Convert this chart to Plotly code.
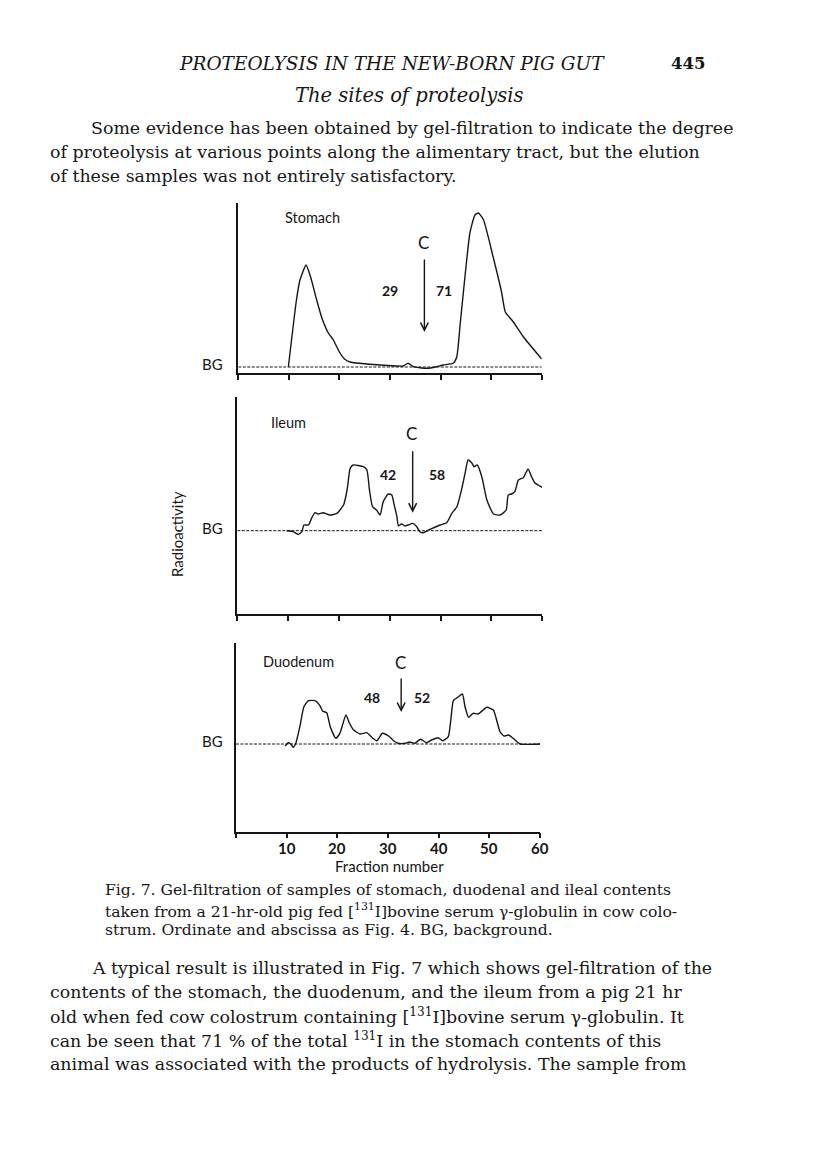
import plotly.graph_objects as go

W, H = 816, 1176
PAGE_OFFSET = 8  # the html body adds an 8px margin; positions below are page pixels

# Fraction number (x) and radioactivity above background (y, arbitrary units)
STOMACH_X = [9.9, 11.5, 12.2, 13.4, 14.3, 15.5, 16.6, 17.8, 18.8, 20.1, 21.0, 22.1,
             26.0, 31.3, 32.6, 33.6, 34.6, 37.3, 39.2, 40.5, 42.5, 43.2, 43.9, 44.9,
             45.8, 46.8, 47.5, 48.5, 50.4, 52.1, 52.8, 54.4, 56.4, 60.0]
STOMACH_Y = [0, 67, 87, 102, 90, 67, 48, 34, 27, 14, 8, 5,
             2.7, 1, 1, 3.7, 0.3, -1.3, 0.3, 2, 3.7, 10, 44, 94,
             134, 152, 154, 147, 110, 74, 55, 45, 30, 8]

ILEUM_X = [9.7, 11.0, 12.0, 12.7, 13.1, 14.0, 14.6, 15.3, 15.9, 16.9, 18.2, 19.6,
           20.9, 21.6, 22.2, 22.8, 24.8, 25.5, 26.0, 26.6, 27.4, 28.1, 28.7, 29.7,
           30.4, 30.8, 31.4, 31.7, 32.3, 33.0, 33.6, 34.5, 35.3, 35.9, 36.6, 37.9,
           39.9, 41.2, 42.2, 43.2, 44.1, 44.8, 45.4, 46.1, 46.6, 47.2, 48.1, 49.1,
           50.4, 51.7, 52.9, 53.3, 54.0, 54.6, 55.3, 56.3, 57.2, 57.9, 58.5, 60.0]
ILEUM_Y = [0, -1, -3.7, -1, 5.7, 5.7, 12.3, 18, 16.7, 18, 15.7, 17.3,
           25.7, 40.7, 62.3, 65.7, 64, 60.7, 40.7, 24, 20.7, 15.7, 29, 36.7,
           35.7, 27.3, 14, 4.7, 6.7, 4.7, 5.7, 7.3, 4, -1, -2, 1.3,
           5.7, 8, 17.3, 24, 40.7, 57.3, 70.7, 68, 64, 65.7, 54, 30.7,
           16.7, 15.7, 20.7, 35.7, 36.7, 39, 50.7, 53.3, 61.7, 54, 48, 43.3]

DUODENUM_X = [9.7, 10.3, 10.8, 11.3, 11.8, 12.6, 13.4, 14.3, 15.6, 16.6, 17.1, 17.9,
              18.6, 19.7, 20.5, 21.7, 22.4, 23.2, 24.5, 25.8, 26.8, 27.8, 28.9, 30.1,
              31.1, 32.0, 33.4, 34.3, 35.3, 36.4, 37.6, 38.6, 39.9, 40.8, 41.9, 42.4,
              42.9, 43.9, 44.7, 45.2, 45.9, 46.8, 47.8, 49.5, 50.8, 51.4, 52.1, 52.9,
              53.8, 54.7, 56.1, 60.0]
DUODENUM_Y = [-2, 1.3, 0, -3.3, 0.7, 17.3, 37.3, 43.3, 43.3, 38, 33, 31.3,
              17.3, 5.7, 10.7, 29, 20.7, 14, 10, 11.3, 6.7, 3.3, 10.7, 8,
              3.3, 0.7, 0.7, 2, 0.7, 4.7, 1.3, 4, 6.3, 3.3, 7.3, 24,
              43.3, 47.3, 50, 37.3, 26.7, 30.7, 30, 36.7, 34, 24.7, 12.3, 8,
              9, 5.7, 0, 0]

TICKS = [0, 10, 20, 30, 40, 50, 60]
TICK_TEXT = ["", "10", "20", "30", "40", "50", "60"]
PANELS = ["Stomach", "Ileum", "Duodenum"]
SPLIT = [("29", "71"), ("42", "58"), ("48", "52")]

HEADER = "PROTEOLYSIS IN THE NEW-BORN PIG GUT"
SUBHEAD = "The sites of proteolysis"
PARA1 = [
    "Some evidence has been obtained by gel-filtration to indicate the degree",
    "of proteolysis at various points along the alimentary tract, but the elution",
    "of these samples was not entirely satisfactory.",
]
CAPTION = [
    "Fig. 7. Gel-filtration of samples of stomach, duodenal and ileal contents",
    "taken from a 21-hr-old pig fed [<sup>131</sup>I]bovine serum γ-globulin in cow colo-",
    "strum. Ordinate and abscissa as Fig. 4. BG, background.",
]
PARA2 = [
    "A typical result is illustrated in Fig. 7 which shows gel-filtration of the",
    "contents of the stomach, the duodenum, and the ileum from a pig 21 hr",
    "old when fed cow colostrum containing [<sup>131</sup>I]bovine serum γ-globulin. It",
    "can be seen that 71 % of the total <sup>131</sup>I in the stomach contents of this",
    "animal was associated with the products of hydrolysis. The sample from",
]


def px(x):
    return (x - PAGE_OFFSET) / W


def py(y):
    return 1 - (y - PAGE_OFFSET) / H


SANS = "Lato, 'Open Sans', sans-serif"
SERIF = "'DejaVu Serif', serif"
INK = "#161616"

# panel geometry in page pixels: x0, x1, y_axis(bottom), y_top, y_bg
geom = [
    (238.3, 541.7, 373.3, 203.0, 367.0),
    (237.3, 542.3, 614.3, 396.7, 530.7),
    (236.0, 540.0, 831.7, 642.7, 744.0),
]
series = [(STOMACH_X, STOMACH_Y), (ILEUM_X, ILEUM_Y), (DUODENUM_X, DUODENUM_Y)]

fig = go.Figure()
layout = dict(
    width=W, height=H,
    margin=dict(l=0, r=0, t=0, b=0),
    paper_bgcolor="white", plot_bgcolor="white",
    showlegend=False,
)
annotations = []
shapes = []


def note(x, y, text, size, family=SANS, xanchor="center", yanchor="middle", **font_kw):
    annotations.append(dict(
        xref="paper", yref="paper", x=px(x), y=py(y), xanchor=xanchor,
        yanchor=yanchor, text=text, showarrow=False,
        font=dict(family=family, size=size, color=INK, **font_kw),
    ))


# arrow / label positions per panel (fraction, value)
arrow_pos = [
    dict(x=36.8, head=35, tail=109, c=125, lx=30.0, rx=40.7, ly=77),
    dict(x=34.5, head=18, tail=81, c=97, lx=29.7, rx=39.3, ly=56),
    dict(x=32.6, head=32, tail=67, c=81, lx=26.8, rx=36.8, ly=46),
]
label_px = [(283, 217), (269, 422), (261, 661)]

for i, ((x0, x1, yb, yt, ybg), (xs, ys)) in enumerate(zip(geom, series)):
    n = "" if i == 0 else str(i + 1)
    xa, ya = "xaxis" + n, "yaxis" + n
    xr, yr = "x" + n, "y" + n
    lo = -(yb - ybg)
    hi = ybg - yt
    layout[xa] = dict(
        domain=[px(x0), px(x1)], range=[0, 60], anchor=yr,
        showgrid=False, zeroline=False, showline=True, linecolor=INK, linewidth=1.5,
        ticks="outside", ticklen=5, tickwidth=1.5, tickcolor=INK,
        tickvals=TICKS, showticklabels=False,
    )
    layout[ya] = dict(
        domain=[py(yb), py(yt)], range=[lo, hi], anchor=xr,
        showgrid=False, zeroline=False, showline=True, linecolor=INK, linewidth=1.8,
        showticklabels=False, ticks="",
    )
    fig.add_trace(go.Scatter(
        x=xs, y=ys, xaxis=xr, yaxis=yr, mode="lines",
        line=dict(color=INK, width=1.4, shape="spline", smoothing=0.5),
        hoverinfo="skip",
    ))
    # background level
    shapes.append(dict(
        type="line", xref=xr, yref=yr, x0=0, x1=60, y0=0, y1=0,
        line=dict(color=INK, width=1, dash="3px,1.5px"),
    ))
    note(225, ybg - 3, "BG", 15, xanchor="right")
    lx, ly = label_px[i]
    note(lx, ly, PANELS[i], 14.5, xanchor="left")
    a = arrow_pos[i]
    annotations.append(dict(
        xref=xr, yref=yr, x=a["x"], y=a["head"], axref=xr, ayref=yr,
        ax=a["x"], ay=a["tail"], text="", showarrow=True,
        arrowhead=5, arrowsize=1.1, arrowwidth=1.4, arrowcolor=INK,
    ))
    for tx, ty, txt, sz, wt in [
        (a["x"] - 0.2, a["c"], "C", 17, "normal"),
        (a["lx"], a["ly"], SPLIT[i][0], 14, "bold"),
        (a["rx"], a["ly"], SPLIT[i][1], 14, "bold"),
    ]:
        annotations.append(dict(
            xref=xr, yref=yr, x=tx, y=ty, xanchor="center", yanchor="middle",
            text=txt, showarrow=False,
            font=dict(family=SANS, size=sz, color=INK, weight=wt),
        ))

# x tick labels of the bottom panel
for v, t in zip(TICKS, TICK_TEXT):
    if t:
        annotations.append(dict(
            xref="x3", yref="paper", x=v, y=py(848), xanchor="center",
            yanchor="middle", text=t, showarrow=False,
            font=dict(family=SANS, size=15, color=INK, weight="bold"),
        ))

annotations.append(dict(
    xref="paper", yref="paper", x=px(177), y=py(534), xanchor="center",
    yanchor="middle", text="Radioactivity", textangle=-90, showarrow=False,
    font=dict(family=SANS, size=15, color=INK),
))
note(389, 866, "Fraction number", 15)

# page text
note(392, 63, HEADER, 18.5, family=SERIF, style="italic")
note(707, 63, "445", 16.5, family=SERIF, xanchor="right", weight="bold")
note(409, 96, SUBHEAD, 19.5, family=SERIF, style="italic")


def add_lines(lines, x_first, x_rest, y0, step, size):
    for k, line in enumerate(lines):
        note(x_first if k == 0 else x_rest, y0 + k * step, line, size,
             family=SERIF, xanchor="left")


add_lines(PARA1, 89, 48, 128, 24, 17.4)
add_lines(CAPTION, 103, 103, 890, 20, 15.6)
add_lines(PARA2, 90, 48, 968, 24, 17.4)

layout["annotations"] = annotations
layout["shapes"] = shapes
fig.update_layout(**layout)

fig.write_html("out.html")
